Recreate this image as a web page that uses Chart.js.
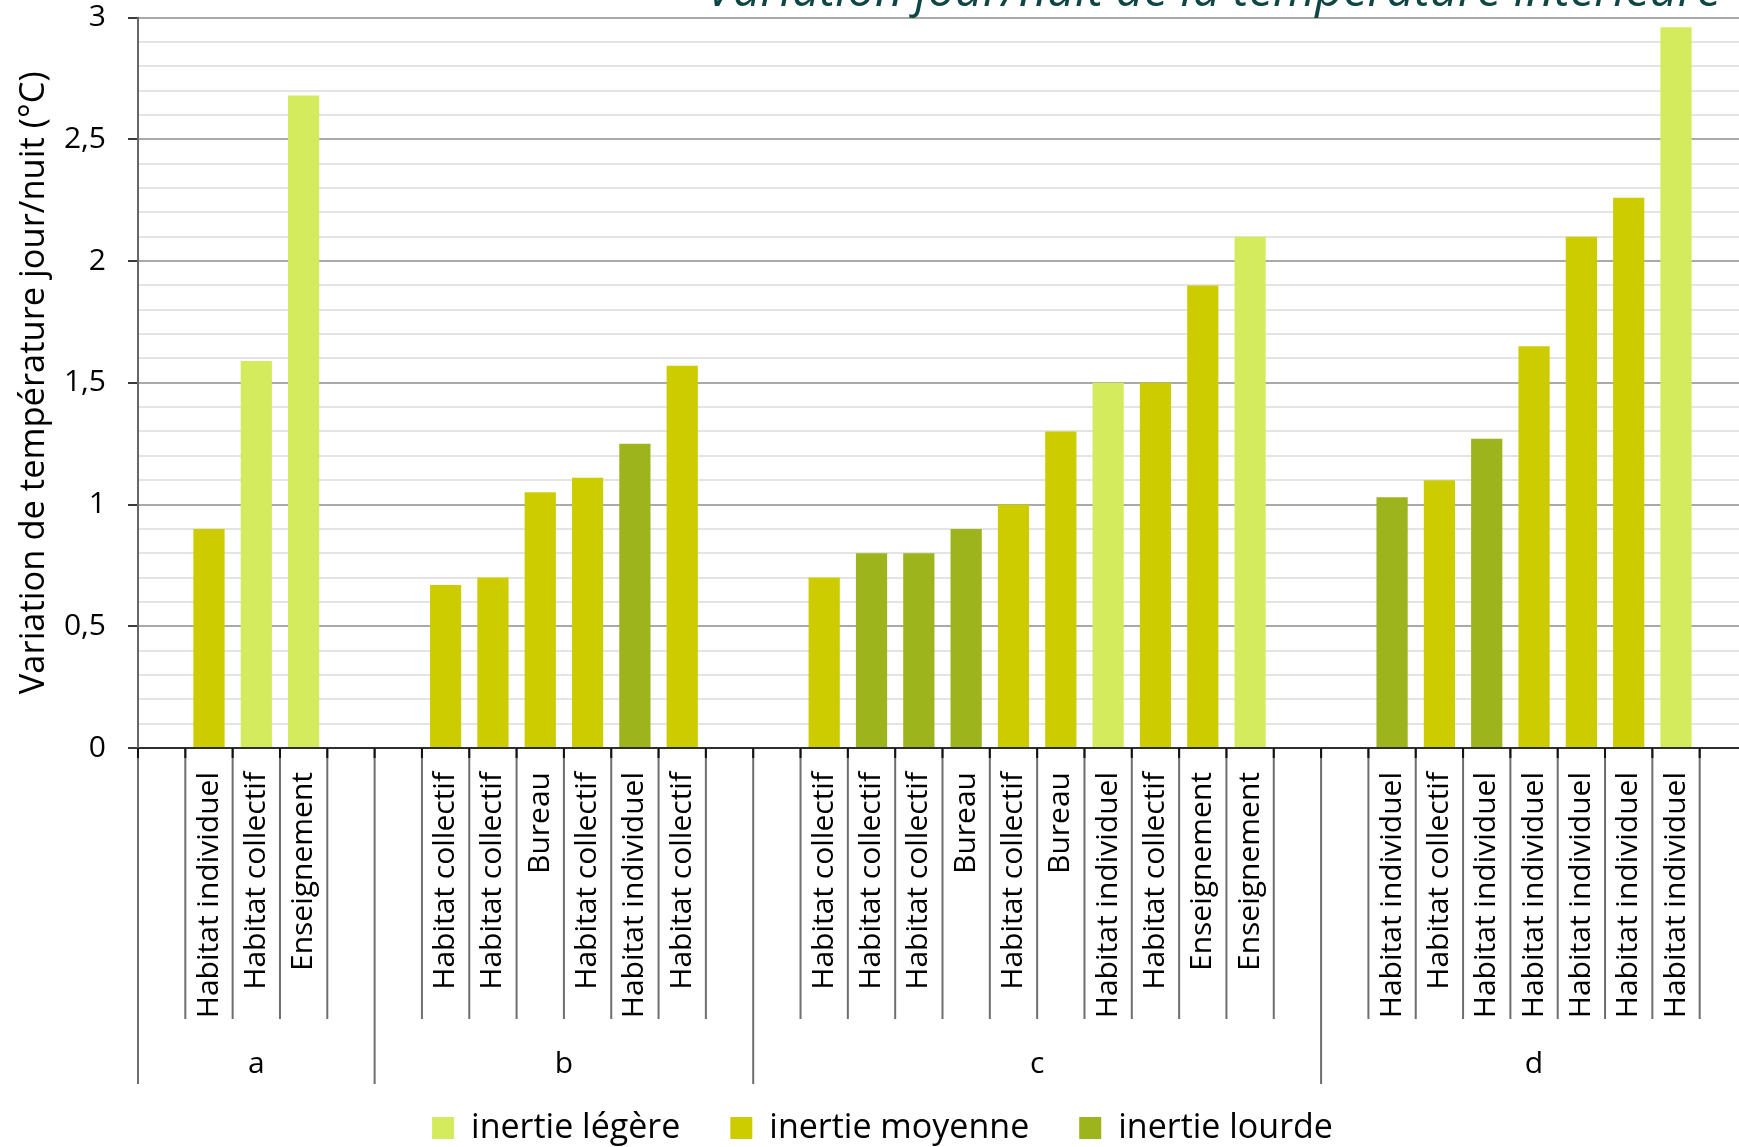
<!DOCTYPE html>
<html lang="fr">
<head>
<meta charset="utf-8">
<title>Variation jour/nuit de la température intérieure</title>
<script src="https://cdn.jsdelivr.net/npm/chart.js@4/dist/chart.umd.min.js"></script>
<style>
  html, body { margin: 0; padding: 0; background: #ffffff; overflow: hidden; }
  #wrap { position: relative; width: 1765px; height: 1155px; }
</style>
</head>
<body>
<div id="wrap"><canvas id="chart"></canvas></div>
<script>
// Building types and day/night indoor temperature swing (°C), by group
const groupNames = ['a', 'b', 'c', 'd'];

const buildingsA = ['Habitat individuel', 'Habitat collectif', 'Enseignement'];
const valuesA    = [0.90, 1.59, 2.68];
const inertiaA   = ['moyenne', 'légère', 'légère'];

const buildingsB = ['Habitat collectif', 'Habitat collectif', 'Bureau', 'Habitat collectif', 'Habitat individuel', 'Habitat collectif'];
const valuesB    = [0.67, 0.70, 1.05, 1.11, 1.25, 1.57];
const inertiaB   = ['moyenne', 'moyenne', 'moyenne', 'moyenne', 'lourde', 'moyenne'];

const buildingsC = ['Habitat collectif', 'Habitat collectif', 'Habitat collectif', 'Bureau', 'Habitat collectif', 'Bureau', 'Habitat individuel', 'Habitat collectif', 'Enseignement', 'Enseignement'];
const valuesC    = [0.70, 0.80, 0.80, 0.90, 1.00, 1.30, 1.50, 1.50, 1.90, 2.10];
const inertiaC   = ['moyenne', 'lourde', 'lourde', 'lourde', 'moyenne', 'moyenne', 'légère', 'moyenne', 'moyenne', 'légère'];

const buildingsD = ['Habitat individuel', 'Habitat collectif', 'Habitat individuel', 'Habitat individuel', 'Habitat individuel', 'Habitat individuel', 'Habitat individuel'];
const valuesD    = [1.03, 1.10, 1.27, 1.65, 2.10, 2.26, 2.96];
const inertiaD   = ['lourde', 'moyenne', 'lourde', 'moyenne', 'moyenne', 'moyenne', 'légère'];

// Inertia classes (legend order) and their colours
const inertiaClasses = ['légère', 'moyenne', 'lourde'];
const inertiaColors  = ['#d5eb5e', '#cccc00', '#9db41c'];

const yTickLabels = ['0', '0,5', '1', '1,5', '2', '2,5', '3'];

const chartTitle = 'Variation jour/nuit de la température intérieure';
const yTitle = 'Variation de température jour/nuit (°C)';

// ---- build the category axis: one empty slot before and after each group ----
const groupBuildings = [buildingsA, buildingsB, buildingsC, buildingsD];
const groupValues    = [valuesA, valuesB, valuesC, valuesD];
const groupInertia   = [inertiaA, inertiaB, inertiaC, inertiaD];

const labels = [];
const slotValue = [];
const slotInertia = [];
const spans = [];
groupNames.forEach((name, g) => {
  const start = labels.length;
  labels.push(''); slotValue.push(null); slotInertia.push(null);
  groupBuildings[g].forEach((b, i) => {
    labels.push(b);
    slotValue.push(groupValues[g][i]);
    slotInertia.push(groupInertia[g][i]);
  });
  labels.push(''); slotValue.push(null); slotInertia.push(null);
  spans.push({ name, start, end: labels.length });
});

const datasets = inertiaClasses.map((cls, k) => ({
  label: 'inertie ' + cls,
  data: slotValue.map((v, i) => (slotInertia[i] === cls ? v : null)),
  backgroundColor: inertiaColors[k],
  borderWidth: 0,
  barPercentage: 0.66,
  categoryPercentage: 1.0
}));

const FONT = '"Open Sans", "DejaVu Sans", sans-serif';
const isMajor = v => Math.round(v * 10) % 5 === 0;

// Group separators, group letters below the rotated building labels, and the title
const groupAxisPlugin = {
  id: 'groupAxis',
  afterDraw(chart) {
    const { ctx } = chart;
    const x = chart.scales.x;
    const half = (x.getPixelForValue(1) - x.getPixelForValue(0)) / 2;
    const top = x.top;
    const n = labels.length;
    const edges = new Set(spans.map(s => s.start));
    edges.add(n);

    ctx.save();
    for (let i = 0; i <= n; i++) {
      const px = i < n ? x.getPixelForValue(i) - half : x.getPixelForValue(n - 1) + half;
      const len = edges.has(i) ? 336 : 271;
      ctx.strokeStyle = '#6e6e6e';
      ctx.lineWidth = 2;
      ctx.beginPath();
      ctx.moveTo(px, top);
      ctx.lineTo(px, top + len);
      ctx.stroke();
      ctx.strokeStyle = '#111111';
      ctx.beginPath();
      ctx.moveTo(px, top);
      ctx.lineTo(px, top + 10);
      ctx.stroke();
    }

    ctx.fillStyle = '#000000';
    ctx.font = '30px ' + FONT;
    ctx.textAlign = 'center';
    ctx.textBaseline = 'middle';
    spans.forEach(s => {
      const cx = (x.getPixelForValue(s.start) + x.getPixelForValue(s.end - 1)) / 2;
      ctx.fillText(s.name, cx, top + 316);
    });

    ctx.fillStyle = '#0e4545';
    ctx.font = 'italic 48.5px ' + FONT;
    ctx.textAlign = 'right';
    ctx.textBaseline = 'alphabetic';
    ctx.fillText(chartTitle, 1721, 6);
    ctx.restore();
  }
};

new Chart(document.getElementById('chart'), {
  type: 'bar',
  data: { labels, datasets },
  options: {
    responsive: true,
    maintainAspectRatio: false,
    animation: false,
    layout: { padding: 0 },
    plugins: {
      tooltip: { enabled: false },
      title: { display: false },
      legend: {
        position: 'bottom',
        labels: {
          boxWidth: 22,
          boxHeight: 22,
          padding: 50,
          color: '#000000',
          font: { family: FONT, size: 34 }
        }
      }
    },
    scales: {
      x: {
        stacked: true,
        grid: { display: true, drawOnChartArea: false, drawTicks: false, offset: true },
        border: { display: true, color: '#2f2f2f', width: 2 },
        ticks: {
          autoSkip: false,
          maxRotation: 90,
          minRotation: 90,
          padding: 24,
          color: '#000000',
          font: { family: FONT, size: 30 }
        },
        afterFit(scale) {
          scale.height = 313;
          scale.paddingLeft = 0;
          scale.paddingRight = 18;
        }
      },
      y: {
        stacked: true,
        min: 0,
        max: 3,
        grid: {
          lineWidth: 2,
          color: c => (isMajor(c.tick.value) ? '#a9a9a9' : '#e4e4e4'),
          tickLength: 10,
          tickColor: c => (isMajor(c.tick.value) ? '#3a3a3a' : 'rgba(0,0,0,0)')
        },
        border: { display: true, color: '#666666', width: 2 },
        ticks: {
          stepSize: 0.1,
          autoSkip: false,
          padding: 22,
          color: '#000000',
          font: { family: FONT, size: 30 },
          callback: v => (isMajor(v) ? yTickLabels[Math.round(v * 2)] : '')
        },
        title: {
          display: true,
          text: yTitle,
          color: '#000000',
          font: { family: FONT, size: 34.5 },
          padding: { top: 13, bottom: 0 }
        },
        afterFit(scale) {
          scale.width = 138;
          scale.paddingTop = 17.6;
          scale.paddingBottom = 0;
        }
      }
    }
  },
  plugins: [groupAxisPlugin]
});
</script>
</body>
</html>
